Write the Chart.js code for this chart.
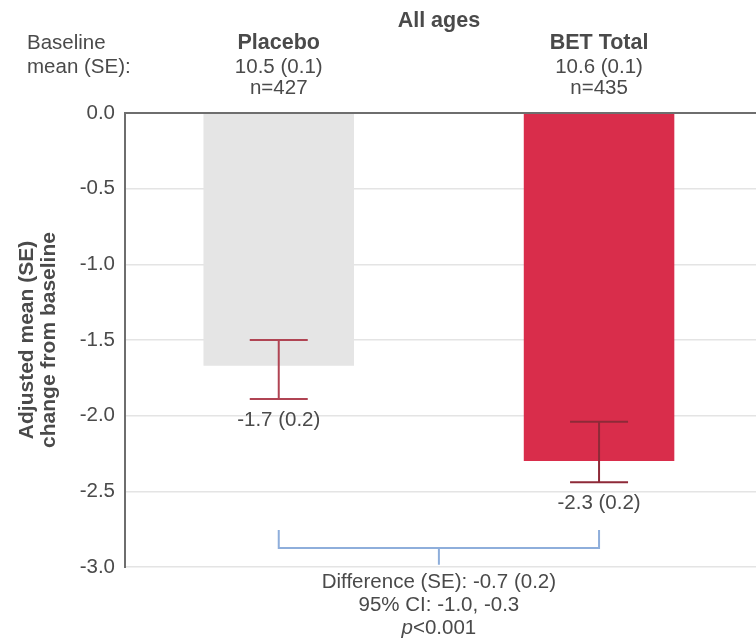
<!DOCTYPE html>
<html>
<head>
<meta charset="utf-8">
<script src="https://cdn.jsdelivr.net/npm/chart.js@4.4.1/dist/chart.umd.min.js"></script>
<style>
    html, body { margin: 0; padding: 0; background: #fff; overflow: hidden; }
</style>
</head>
<body>
<canvas id="chart" width="756" height="642"></canvas>
<script>
"use strict";

// data
var groups = ['Placebo', 'BET Total'];
var baselineMeans = ['10.5 (0.1)', '10.6 (0.1)'];
var groupN = [427, 435];
var changeMeans = [-1.67, -2.30];
var errUpper = [-1.50, -2.04];
var errLower = [-1.89, -2.44];
var changeLabels = ['-1.7 (0.2)', '-2.3 (0.2)'];
var yTicks = [0, -0.5, -1, -1.5, -2, -2.5, -3];
var differenceLines = ['Difference (SE): -0.7 (0.2)', '95% CI: -1.0, -0.3'];
var pValue = '<0.001';

var barColors = ['#e5e5e5', '#d92d4b'];
var textColor = '#4a4a4a';
var fontFamily = "'Liberation Sans', Arial, Helvetica, sans-serif";

Chart.defaults.font.family = fontFamily;
Chart.defaults.font.size = 20;
Chart.defaults.color = textColor;

function font(size, bold, italic) {
    return (italic ? 'italic ' : '') + (bold ? 'bold ' : '') + size + 'px ' + fontFamily;
}

// header, error bars, value labels and the difference bracket
var annotations = {
    id: 'annotations',
    afterDatasetsDraw: function (chart) {
        var ctx = chart.ctx;
        var xs = chart.scales.x;
        var ys = chart.scales.y;
        var area = chart.chartArea;
        ctx.save();
        ctx.textAlign = 'center';
        ctx.textBaseline = 'middle';
        ctx.fillStyle = textColor;

        // header
        ctx.font = font(21.5, true);
        ctx.fillText('All ages', xs.getPixelForValue(1.5), 21);
        ctx.textAlign = 'left';
        ctx.font = font(20.5);
        ctx.fillText('Baseline', 27, 43);
        ctx.fillText('mean (SE):', 27, 67);
        ctx.textAlign = 'center';

        groups.forEach(function (g, i) {
            var cx = xs.getPixelForValue(i + 1);
            ctx.fillStyle = textColor;
            ctx.font = font(21.5, true);
            ctx.fillText(g, cx, 43);
            ctx.font = font(20.5);
            ctx.fillText(baselineMeans[i], cx, 67);
            ctx.fillText('n=' + groupN[i], cx, 88);

            // error bar
            var top = ys.getPixelForValue(errUpper[i]);
            var bot = ys.getPixelForValue(errLower[i]);
            ctx.strokeStyle = i === 0 ? '#b04453' : '#8e2a38';
            ctx.lineWidth = 2;
            ctx.beginPath();
            ctx.moveTo(cx, top);
            ctx.lineTo(cx, bot);
            ctx.moveTo(cx - 29, top);
            ctx.lineTo(cx + 29, top);
            ctx.moveTo(cx - 29, bot);
            ctx.lineTo(cx + 29, bot);
            ctx.stroke();

            ctx.fillStyle = textColor;
            ctx.font = font(20.5);
            ctx.fillText(changeLabels[i], cx, bot + 21);
        });

        // bracket between the groups
        var x1 = xs.getPixelForValue(1);
        var x2 = xs.getPixelForValue(2);
        var xm = xs.getPixelForValue(1.5);
        var yb = ys.getPixelForValue(-2.875);
        var ye = ys.getPixelForValue(-2.755);
        var yt = ys.getPixelForValue(-2.985);
        ctx.strokeStyle = '#8eaedb';
        ctx.lineWidth = 2;
        ctx.beginPath();
        ctx.moveTo(x1, ye);
        ctx.lineTo(x1, yb);
        ctx.lineTo(x2, yb);
        ctx.lineTo(x2, ye);
        ctx.moveTo(xm, yb);
        ctx.lineTo(xm, yt);
        ctx.stroke();

        ctx.fillStyle = textColor;
        ctx.font = font(20.5);
        differenceLines.forEach(function (line, k) {
            ctx.fillText(line, xm, area.bottom + 15 + k * 23);
        });
        var py = area.bottom + 15 + differenceLines.length * 23;
        ctx.font = font(20.5, false, true);
        var wp = ctx.measureText('p').width;
        ctx.font = font(20.5);
        var wr = ctx.measureText(pValue).width;
        ctx.textAlign = 'left';
        ctx.font = font(20.5, false, true);
        ctx.fillText('p', xm - (wp + wr) / 2, py);
        ctx.font = font(20.5);
        ctx.fillText(pValue, xm - (wp + wr) / 2 + wp, py);
        ctx.restore();
    }
};

var ctx = document.getElementById('chart');
var chart = new Chart(ctx, {
    type: 'bar',
    data: {
        datasets: [{
            data: changeMeans.map(function (v, i) { return { x: i + 1, y: v }; }),
            backgroundColor: barColors,
            borderWidth: 0,
            barPercentage: 0.47,
            categoryPercentage: 1
        }]
    },
    options: {
        responsive: false,
        animation: false,
        layout: { padding: { top: 113, bottom: 75, left: 0, right: 0 } },
        plugins: {
            legend: { display: false },
            tooltip: { enabled: false }
        },
        scales: {
            x: {
                type: 'linear',
                min: 0.52,
                max: 2.49,
                offset: false,
                display: false,
                afterBuildTicks: function (scale) {
                    scale.ticks = groups.map(function (g, i) { return { value: i + 1 }; });
                },
                grid: { display: false }
            },
            y: {
                min: -3,
                max: 0,
                afterBuildTicks: function (scale) {
                    scale.ticks = yTicks.map(function (v) { return { value: v }; });
                },
                afterFit: function (scale) {
                    scale.width = 125;
                },
                ticks: {
                    padding: 10,
                    color: textColor,
                    font: { size: 20.5 },
                    callback: function (v) { return Number(v).toFixed(1); }
                },
                grid: {
                    drawTicks: false,
                    color: function (c) { return c.tick && c.tick.value === 0 ? '#6e6e6e' : '#e4e4e4'; },
                    lineWidth: function (c) { return c.tick && c.tick.value === 0 ? 2 : 1.5; }
                },
                border: { display: true, color: '#6e6e6e', width: 2 },
                title: {
                    display: true,
                    text: ['Adjusted mean (SE)', 'change from baseline'],
                    color: textColor,
                    font: { size: 21, weight: 'bold', lineHeight: 1.05 },
                    padding: { top: 16, bottom: 0 }
                }
            }
        }
    },
    plugins: [annotations]
});
</script>
</body>
</html>
